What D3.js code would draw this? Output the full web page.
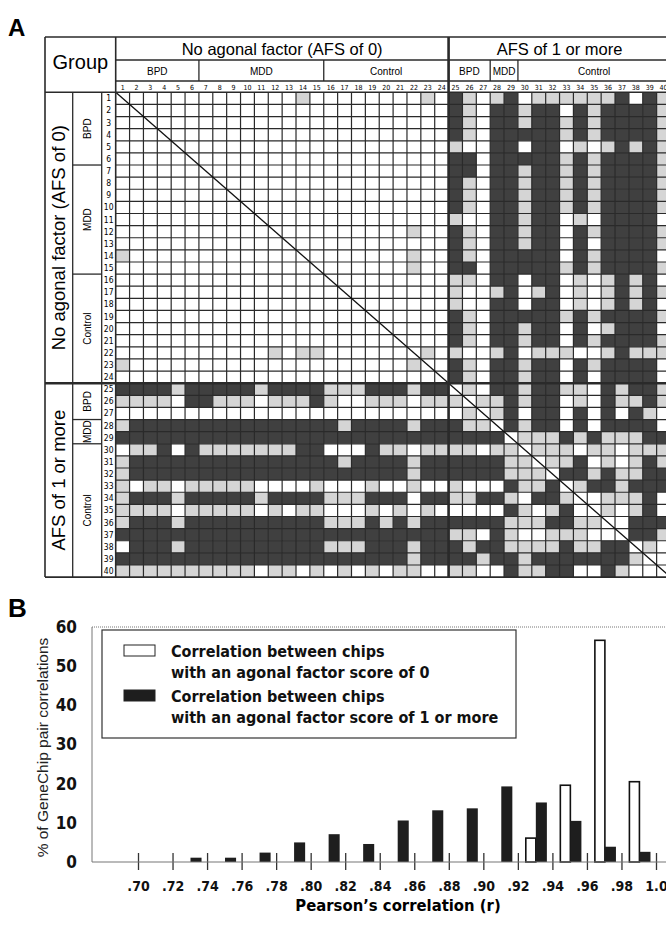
<!DOCTYPE html>
<html>
<head>
<meta charset="utf-8">
<script src="https://cdn.jsdelivr.net/npm/d3@7"></script>
<style>
  body { margin: 0; background: #fff; }
  svg { display: block; font-family: "Liberation Sans", Arial, sans-serif; }
</style>
</head>
<body>
<svg id="fig" width="666" height="927"></svg>
<script>
// ---- Panel A data ----
const chipIds = d3.range(1, 41);
const afsGroups = [
  { label: 'No agonal factor (AFS of 0)', from: 1, to: 24 },
  { label: 'AFS of 1 or more', from: 25, to: 40 },
];
const diagnosisGroups = [
  { label: 'BPD', from: 1, to: 6 },
  { label: 'MDD', from: 7, to: 15 },
  { label: 'Control', from: 16, to: 24 },
  { label: 'BPD', from: 25, to: 27 },
  { label: 'MDD', from: 28, to: 29 },
  { label: 'Control', from: 30, to: 40 },
];
// lower triangle of the symmetric chip x chip matrix, row i holds columns 1..i-1
// 0 = white, 1 = light grey, 2 = dark
const lowerTri = [
  '',
  '0',
  '00',
  '000',
  '0000',
  '00000',
  '000000',
  '0000000',
  '00000000',
  '000000000',
  '0000000000',
  '00000000000',
  '000000000000',
  '1000000000000',
  '00000000000000',
  '000000000000000',
  '0000000000000000',
  '00000000000000000',
  '000000000000000000',
  '0000000000000000000',
  '00000000000000000000',
  '000000000001011000000',
  '1000000000000000000001',
  '00000000000000000000000',
  '222212222212222111222122',
  '1111022111011121001110111',
  '00000000000000000000000001',
  '122222222222222212222122211',
  '2222222222222222222222222222',
  '01120211111112200021101111011',
  '122222222222222212222122222211',
  '1222222222222222222221222222111',
  '10110111110000100010010010002112',
  '122212222212222111222022112210221',
  '1111011111010110001010100000210120',
  '12221222222222211121212222221112211',
  '222222222222222222222222110210011100',
  '0222122222222221112221222122111121122',
  '22222222222222222222212222122122222221',
  '111111111101101010101100110021122002100',
];

// ---- Panel B data ----
const corrTicks = [0.70, 0.72, 0.74, 0.76, 0.78, 0.80, 0.82, 0.84, 0.86, 0.88, 0.90, 0.92, 0.94, 0.96, 0.98, 1.00];
const corrLabels = ['.70', '.72', '.74', '.76', '.78', '.80', '.82', '.84', '.86', '.88', '.90', '.92', '.94', '.96', '.98', '1.0'];
const pctAfs0 = [0, 0, 0, 0, 0, 0, 0, 0, 0, 0, 0, 0, 6.1, 19.6, 56.6, 20.5];
const pctAfs1 = [0, 0, 1.1, 1.1, 2.4, 5.0, 7.1, 4.6, 10.6, 13.2, 13.7, 19.3, 15.2, 10.5, 3.9, 2.6];
const pctTicks = [0, 10, 20, 30, 40, 50, 60];
const legendLines = [
  ['Correlation between chips', 'with an agonal factor score of 0'],
  ['Correlation between chips', 'with an agonal factor score of 1 or more'],
];

const cellFill = ['#ffffff', '#d5d5d5', '#404040'];
const lineCol = '#2a2a2a';
const narrow = '"Liberation Sans Narrow", "Arial Narrow", "DejaVu Sans Condensed", sans-serif';

const svg = d3.select('#fig');

// ================= Panel A =================
const x = d3.scaleBand().domain(chipIds).range([115.7, 115.7 + 40 * 13.87]);
const y = d3.scaleBand().domain(chipIds).range([92.3, 92.3 + 40 * 12.12]);
const gridLeft = x.range()[0], gridRight = x.range()[1];
const gridTop = y.range()[0], gridBottom = y.range()[1];
const tableLeft = 45, tableTop = 37;
const labelCols = [tableLeft, 72.7, 101.7, gridLeft];
const headRows = [tableTop, 60, 81, gridTop];

function cellValue(r, c) {
  if (r === c) return 0;
  const s = r > c ? lowerTri[r - 1] : lowerTri[c - 1];
  const k = r > c ? c - 1 : r - 1;
  return +(s.charAt(k) || 0);
}
const cells = [];
chipIds.forEach((r) => chipIds.forEach((c) => cells.push({ r, c, v: cellValue(r, c) })));

const A = svg.append('g');

A.append('text').attr('x', 8).attr('y', 36)
  .attr('font-size', 24).attr('font-weight', 'bold').text('A');

A.append('g').selectAll('rect').data(cells).join('rect')
  .attr('x', (d) => x(d.c))
  .attr('y', (d) => y(d.r))
  .attr('width', x.bandwidth())
  .attr('height', y.bandwidth())
  .attr('fill', (d) => cellFill[d.v]);

// grid lines
const grid = A.append('g').attr('stroke', lineCol).attr('stroke-width', 1.2);
grid.selectAll('.v').data(chipIds.slice(1)).join('line')
  .attr('x1', (d) => x(d)).attr('x2', (d) => x(d))
  .attr('y1', gridTop).attr('y2', gridBottom);
grid.selectAll('.h').data(chipIds.slice(1)).join('line')
  .attr('class', 'h')
  .attr('y1', (d) => y(d)).attr('y2', (d) => y(d))
  .attr('x1', gridLeft).attr('x2', gridRight);

// diagonal
A.append('line')
  .attr('x1', gridLeft).attr('y1', gridTop)
  .attr('x2', gridRight).attr('y2', gridBottom)
  .attr('stroke', '#111').attr('stroke-width', 1.3);

// table frame
const frame = A.append('g').attr('stroke', lineCol).attr('stroke-width', 1.3).attr('fill', 'none');
const seg = (x1, y1, x2, y2, w) =>
  frame.append('line').attr('x1', x1).attr('y1', y1).attr('x2', x2).attr('y2', y2)
    .attr('stroke-width', w || 1.3);

seg(tableLeft, tableTop, gridRight, tableTop, 1.6);
seg(tableLeft, tableTop, tableLeft, gridBottom, 1.6);
seg(tableLeft, gridBottom, gridRight, gridBottom, 1.6);
seg(gridLeft, tableTop, gridLeft, gridBottom, 1.6);
seg(gridLeft, headRows[1], gridRight, headRows[1]);
seg(gridLeft, headRows[2], gridRight, headRows[2]);
seg(tableLeft, gridTop, gridRight, gridTop, 1.6);
seg(labelCols[1], gridTop, labelCols[1], gridBottom);
seg(labelCols[2], gridTop, labelCols[2], gridBottom);

// diagnosis separators in header row and label column
diagnosisGroups.slice(1).forEach((g) => {
  seg(x(g.from), headRows[1], x(g.from), headRows[2]);
  seg(labelCols[1], y(g.from), labelCols[2], y(g.from));
});
// AFS group separators (thick)
afsGroups.slice(1).forEach((g) => {
  seg(x(g.from), tableTop, x(g.from), gridBottom, 2.6);
  seg(tableLeft, y(g.from), gridRight, y(g.from), 2.6);
});

// header texts
A.append('text').attr('x', (tableLeft + gridLeft) / 2).attr('y', 69)
  .attr('text-anchor', 'middle').attr('font-size', 20).text('Group');

const spanMid = (s, g) => (s(g.from) + s(g.to) + s.bandwidth()) / 2;

A.selectAll('.afsHead').data(afsGroups).join('text')
  .attr('x', (g) => spanMid(x, g)).attr('y', 55)
  .attr('text-anchor', 'middle').attr('font-size', 16.5).text((g) => g.label);

A.selectAll('.dxHead').data(diagnosisGroups).join('text')
  .attr('x', (g) => spanMid(x, g)).attr('y', 74.5)
  .attr('text-anchor', 'middle').attr('font-size', 10).text((g) => g.label);

A.selectAll('.colNum').data(chipIds).join('text')
  .attr('x', (d) => x(d) + x.bandwidth() / 2).attr('y', 89.5)
  .attr('text-anchor', 'middle').attr('font-size', 7).attr('font-family', narrow)
  .text((d) => d);

A.selectAll('.afsRow').data(afsGroups).join('text')
  .attr('transform', (g) => `translate(${(labelCols[0] + labelCols[1]) / 2 + 6.5},${spanMid(y, g)}) rotate(-90)`)
  .attr('text-anchor', 'middle').attr('font-size', 18.5).text((g) => g.label);

A.selectAll('.dxRow').data(diagnosisGroups).join('text')
  .attr('transform', (g) => `translate(${(labelCols[1] + labelCols[2]) / 2 + 3.5},${spanMid(y, g)}) rotate(-90)`)
  .attr('text-anchor', 'middle').attr('font-size', 10).text((g) => g.label);

A.selectAll('.rowNum').data(chipIds).join('text')
  .attr('x', (labelCols[2] + labelCols[3]) / 2).attr('y', (d) => y(d) + y.bandwidth() / 2 + 3)
  .attr('text-anchor', 'middle').attr('font-size', 8.5).attr('font-family', narrow)
  .text((d) => d);

// ================= Panel B =================
const B = svg.append('g').attr('font-family', narrow);
const xB = d3.scaleLinear().domain([0.70, 1.00]).range([138, 656]);
const yB = d3.scaleLinear().domain([0, 60]).range([862, 627]);
const step = xB(0.72) - xB(0.70);
const plotLeft = 92;

B.append('text').attr('x', 8).attr('y', 617)
  .attr('font-family', '"Liberation Sans", Arial, sans-serif')
  .attr('font-size', 26).attr('font-weight', 'bold').text('B');

// frame: dotted top, left axis, baseline
B.append('line').attr('x1', plotLeft).attr('x2', 666).attr('y1', yB(60)).attr('y2', yB(60))
  .attr('stroke', '#777').attr('stroke-width', 1).attr('stroke-dasharray', '1,1');
B.append('line').attr('x1', plotLeft).attr('x2', plotLeft).attr('y1', yB(60)).attr('y2', yB(0))
  .attr('stroke', '#777').attr('stroke-width', 1);

const barData = corrTicks.map((t, i) => ({ t, a0: pctAfs0[i], a1: pctAfs1[i] }));

B.append('g').selectAll('rect').data(barData.filter((d) => d.a0 > 0)).join('rect')
  .attr('x', (d) => xB(d.t) - 0.77 * step)
  .attr('width', 0.29 * step)
  .attr('y', (d) => yB(d.a0))
  .attr('height', (d) => yB(0) - yB(d.a0))
  .attr('fill', '#fff').attr('stroke', '#111').attr('stroke-width', 1.6);

B.append('g').selectAll('rect').data(barData.filter((d) => d.a1 > 0)).join('rect')
  .attr('x', (d) => xB(d.t) - 0.48 * step)
  .attr('width', 0.32 * step)
  .attr('y', (d) => yB(d.a1))
  .attr('height', (d) => yB(0) - yB(d.a1))
  .attr('fill', '#1e1e1e');

// x axis
const xAxis = B.append('g').attr('transform', `translate(0,${yB(0)})`)
  .call(d3.axisBottom(xB).tickValues(corrTicks).tickFormat((d, i) => corrLabels[i]).tickSize(8).tickPadding(11));
xAxis.select('.domain').remove();
xAxis.append('line').attr('x1', plotLeft).attr('x2', 666).attr('stroke', '#777').attr('stroke-width', 1.2);
xAxis.selectAll('.tick line').attr('y1', -9).attr('y2', 8).attr('stroke', '#333').attr('stroke-width', 1.3);
xAxis.selectAll('.tick text').attr('font-family', narrow).attr('font-size', 14)
  .attr('font-weight', 'bold').attr('fill', '#111');

// y axis
const yAxis = B.append('g').attr('transform', `translate(${plotLeft},0)`)
  .call(d3.axisLeft(yB).tickValues(pctTicks).tickSize(0).tickPadding(15));
yAxis.select('.domain').remove();
yAxis.selectAll('.tick text').attr('font-family', narrow).attr('font-size', 17)
  .attr('font-weight', 'bold').attr('fill', '#111');

B.append('text')
  .attr('transform', `translate(48,${(yB(0) + yB(60)) / 2 + 3}) rotate(-90)`)
  .attr('text-anchor', 'middle').attr('font-family', '"Liberation Sans", Arial, sans-serif')
  .attr('font-size', 15.5).attr('fill', '#222').text('% of GeneChip pair correlations');

B.append('text').attr('x', 398).attr('y', 911)
  .attr('text-anchor', 'middle').attr('font-size', 16.5).attr('font-weight', 'bold')
  .text('Pearson\u2019s correlation (r)');

// legend
const leg = B.append('g');
leg.append('rect').attr('x', 102).attr('y', 630).attr('width', 414).attr('height', 108)
  .attr('fill', '#fff').attr('stroke', '#333').attr('stroke-width', 1.2);
const legRows = leg.selectAll('.lr').data(legendLines).join('g')
  .attr('transform', (d, i) => `translate(0,${i * 45})`);
legRows.append('rect').attr('x', 124).attr('y', 645).attr('width', 31).attr('height', 11)
  .attr('fill', (d, i) => (i === 0 ? '#fff' : '#1e1e1e')).attr('stroke', '#222').attr('stroke-width', 1);
legRows.selectAll('text').data((d) => d).join('text')
  .attr('x', 171).attr('y', (d, j) => 657 + j * 21)
  .attr('font-size', 16).attr('font-weight', 'bold').attr('fill', '#111')
  .text((d) => d);
</script>
</body>
</html>
